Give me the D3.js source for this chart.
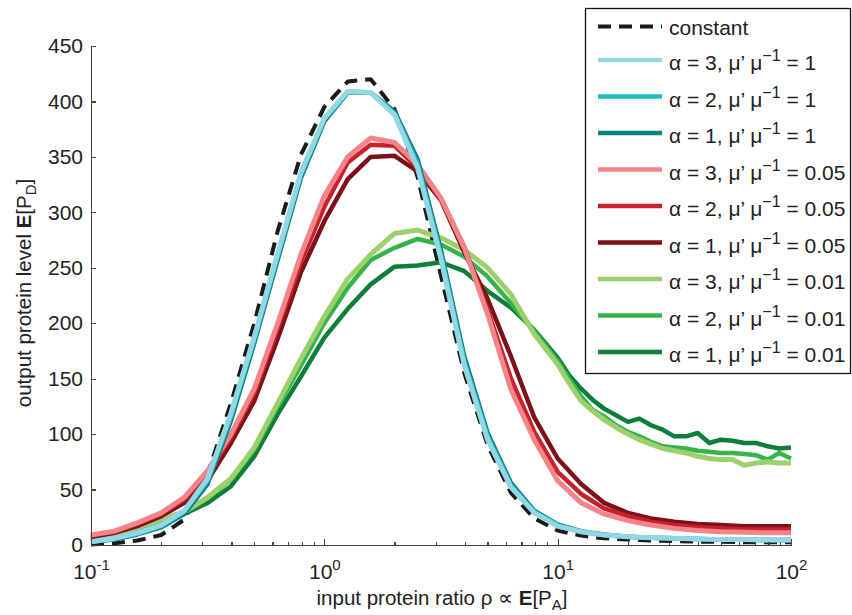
<html>
<head>
<title>output protein level vs input protein ratio</title>
<script src="https://d3js.org/d3.v7.min.js"></script>
<style>
body { margin: 0; background: #fff; }
svg text { font-family: "Liberation Sans", Arial, Helvetica, sans-serif; fill: #222; }
.axis path, .axis line { fill: none; stroke: #444; stroke-width: 1.3; shape-rendering: crispEdges; }
.axis text { font-size: 21px; }
.axis-label { font-size: 20.5px; }
.legend text { font-size: 21px; }
.curve { fill: none; stroke-linejoin: round; stroke-linecap: butt; }
</style>
</head>
<body>
<div id="vis_container"></div>
<script>

var width = 852;
var height = 615;

// sample points of the input ratio (0.1 decade steps)
var xs = [0.1, 0.126, 0.158, 0.2, 0.251, 0.316, 0.398, 0.501, 0.631, 0.794,
          1, 1.26, 1.58, 2, 2.51, 3.16, 3.98, 5.01, 6.31, 7.94,
          10, 12.6, 15.8, 20, 25.1, 31.6, 39.8, 50.1, 63.1, 79.4, 100];
// the 0.01 runs are sampled finer above 10
var xsFine = [0.1, 0.126, 0.158, 0.2, 0.251, 0.316, 0.398, 0.501, 0.631, 0.794,
              1, 1.26, 1.58, 2, 2.51, 3.16, 3.98, 5.01, 6.31, 7.94,
              10, 11.2, 12.6, 14.1, 15.8, 17.8, 20, 22.4, 25.1, 28.2, 31.6,
              35.5, 39.8, 44.7, 50.1, 56.2, 63.1, 70.8, 79.4, 89.1, 100];

var constantVals = [0.5, 1.5, 4, 9, 23, 64, 128, 200, 283, 352, 395, 418, 420, 393, 332, 243, 155, 90, 47, 24,
                    13, 8.5, 6, 5, 4, 3.5, 3, 3, 2.5, 2.5, 2.5];

var a3m1 = [3, 6, 11, 18, 31, 60, 119, 188, 263, 336, 385, 409, 408, 388, 340, 258, 162, 95, 52, 29,
            17, 12, 9, 7.5, 6.5, 6, 5.5, 5, 5, 4.5, 4.5];
var a2m1 = [3, 5.5, 10, 17, 30, 58, 116, 185, 260, 334, 384, 409, 408, 389, 344, 262, 166, 98, 54, 30,
            18, 12, 9, 7.5, 6.5, 6, 5.5, 5, 5, 4.5, 4.5];
var a1m1 = [3, 5, 9.5, 16, 28, 55, 112, 182, 257, 331, 382, 408, 408, 391, 348, 266, 170, 101, 56, 31,
            18.5, 12.5, 9.5, 7.5, 6.5, 6, 5.5, 5, 5, 4.5, 4.5];

var a3m05 = [9, 12.5, 20, 29, 43, 67, 100, 141, 200, 262, 315, 350, 367, 363, 343, 313, 268, 208, 140, 95,
             58, 38, 28, 22, 18, 15, 13, 12, 11.5, 11, 11];
var a2m05 = [8.5, 12, 19, 28, 41, 64, 97, 137, 195, 255, 305, 345, 361, 360, 340, 312, 269, 212, 150, 102,
             66, 46, 33, 26, 21, 18, 16, 15, 14, 14, 14];
var a1m05 = [7, 11, 17, 26, 38, 58, 92, 130, 186, 246, 292, 330, 350, 351, 337, 311, 264, 222, 170, 115,
             78, 55, 38, 29, 24, 21, 19, 18, 17, 17, 17];

var a3m01 = [6, 10, 16, 23, 30, 43, 60, 88, 128, 168, 206, 240, 262, 281, 284, 277, 266, 250, 226, 190,
             163, 146, 130, 121, 113, 106, 100, 95, 91, 87, 85, 83, 80, 78, 77, 77, 72, 74, 75, 74, 74];
var a2m01 = [5, 10, 15, 22, 29, 42, 59, 86, 125, 162, 200, 232, 257, 268, 276, 271, 260, 242, 218, 193,
             166, 150, 134, 122, 116, 108, 102, 98, 93, 89, 88, 87, 85, 84, 83, 83, 82, 81, 77, 83, 78];
var a1m01 = [5, 9.5, 15, 22, 28, 38, 53, 80, 118, 152, 187, 213, 235, 251, 252, 255, 247, 229, 214, 194,
             169, 153, 141, 131, 123, 117, 111, 114, 108, 104, 98, 98, 101, 92, 95, 94, 92, 92, 89, 87, 88];

var alphas = [3, 2, 1, 3, 2, 1, 3, 2, 1];
var ratios = ["1", "1", "1", "0.05", "0.05", "0.05", "0.01", "0.01", "0.01"];
var colors = ["#93d6e4", "#1dbdc0", "#0d7d7e", "#f2858a", "#c8202c", "#7e1118", "#9dd06c", "#36b44b", "#0e7e3b"];

var yTicks = [0, 50, 100, 150, 200, 250, 300, 350, 400, 450];
var xTicks = [0.1, 1, 10, 100];
var xTickExp = ["-1", "0", "1", "2"];

var svg = d3.select("#vis_container")
    .append("svg")
    .attr("width", width)
    .attr("height", height);

var x = d3.scaleLog()
    .domain([0.1, 100])
    .range([91, 791]);

var y = d3.scaleLinear()
    .domain([0, 450])
    .range([545, 46]);

// legend order
var series = [
    {x: xs, v: a3m1}, {x: xs, v: a2m1}, {x: xs, v: a1m1},
    {x: xs, v: a3m05}, {x: xs, v: a2m05}, {x: xs, v: a1m05},
    {x: xsFine, v: a3m01}, {x: xsFine, v: a2m01}, {x: xsFine, v: a1m01}
];
series.forEach(function(s, i) {
    s.color = colors[i];
    s.alpha = alphas[i];
    s.ratio = ratios[i];
    s.w = (i % 3 == 0) ? 5 : 4.5;
});

var line = d3.line()
    .x(function(d) { return x(d[0]); })
    .y(function(d) { return y(d[1]); });

function pairs(xv, yv) {
    return xv.map(function(d, i) { return [d, yv[i]]; });
}

// dashed reference first, then greens, reds, blues (alpha 1 at the bottom)
svg.append("path")
    .attr("class", "curve")
    .attr("d", line(pairs(xs, constantVals)))
    .style("stroke", "#1b1b1b")
    .style("stroke-width", 4)
    .style("stroke-dasharray", "13,8");

var drawOrder = [8, 7, 6, 5, 4, 3, 2, 1, 0];
drawOrder.forEach(function(i) {
    var s = series[i];
    svg.append("path")
        .attr("class", "curve")
        .attr("d", line(pairs(s.x, s.v)))
        .style("stroke", s.color)
        .style("stroke-width", s.w);
});

// y axis, ticks pointing inward
svg.append("g")
    .attr("class", "axis")
    .attr("transform", "translate(91,0)")
    .call(d3.axisLeft(y).tickValues(yTicks).tickSizeInner(-5).tickSizeOuter(0).tickPadding(8));

// minor x ticks
var minor = [];
[0.1, 1, 10].forEach(function(dec) {
    for (var k = 2; k <= 9; k++) minor.push(dec * k);
});
svg.append("g")
    .attr("class", "axis")
    .attr("transform", "translate(0,545)")
    .call(d3.axisBottom(x).tickValues(minor).tickSizeInner(-3.5).tickSizeOuter(0).tickFormat(""));

var xAxis = svg.append("g")
    .attr("class", "axis")
    .attr("transform", "translate(0,545)")
    .call(d3.axisBottom(x).tickValues(xTicks).tickSizeInner(-6).tickSizeOuter(0).tickPadding(19).tickFormat(""));

xAxis.selectAll(".tick text").each(function(d, i) {
    var t = d3.select(this);
    t.append("tspan").text("10");
    t.append("tspan").attr("dy", -9).style("font-size", "15px").text(xTickExp[i]);
});

// axis labels
var xl = svg.append("text")
    .attr("class", "axis-label")
    .attr("x", 442)
    .attr("y", 605)
    .style("text-anchor", "middle");
xl.append("tspan").text("input protein ratio \u03c1 \u221d ");
xl.append("tspan").style("font-weight", "bold").text("E");
xl.append("tspan").text("[P");
xl.append("tspan").attr("dy", 5).style("font-size", "15px").text("A");
xl.append("tspan").attr("dy", -5).text("]");

var yl = svg.append("text")
    .attr("class", "axis-label")
    .attr("transform", "translate(31,293) rotate(-90)")
    .style("text-anchor", "middle");
yl.append("tspan").text("output protein level ");
yl.append("tspan").style("font-weight", "bold").text("E");
yl.append("tspan").text("[P");
yl.append("tspan").attr("dy", 5).style("font-size", "15px").text("D");
yl.append("tspan").attr("dy", -5).text("]");

// legend
var legend = svg.append("g").attr("class", "legend");
legend.append("rect")
    .attr("x", 585.5)
    .attr("y", 8.5)
    .attr("width", 265)
    .attr("height", 365)
    .style("fill", "#fff")
    .style("stroke", "#111")
    .style("stroke-width", 1.3);

function rowY(i) { return i == 0 ? 26.5 : 23.5 + i * 36.5; }

legend.append("line")
    .attr("x1", 598).attr("x2", 662)
    .attr("y1", rowY(0)).attr("y2", rowY(0))
    .style("stroke", "#1b1b1b")
    .style("stroke-width", 4)
    .style("stroke-dasharray", "13,8");
legend.append("text")
    .attr("x", 669)
    .attr("y", rowY(0) + 8)
    .text("constant");

series.forEach(function(s, i) {
    var ly = rowY(i + 1);
    legend.append("line")
        .attr("x1", 598).attr("x2", 662)
        .attr("y1", ly).attr("y2", ly)
        .style("stroke", s.color)
        .style("stroke-width", 4.5);
    var t = legend.append("text")
        .attr("x", 669)
        .attr("y", ly + 10);
    t.append("tspan").text("\u03b1 = " + s.alpha + ", \u03bc\u2019 \u03bc");
    t.append("tspan").attr("dy", -9).style("font-size", "16px").text("\u22121");
    t.append("tspan").attr("dy", 9).text(" = " + s.ratio);
});

</script>
</body>
</html>
